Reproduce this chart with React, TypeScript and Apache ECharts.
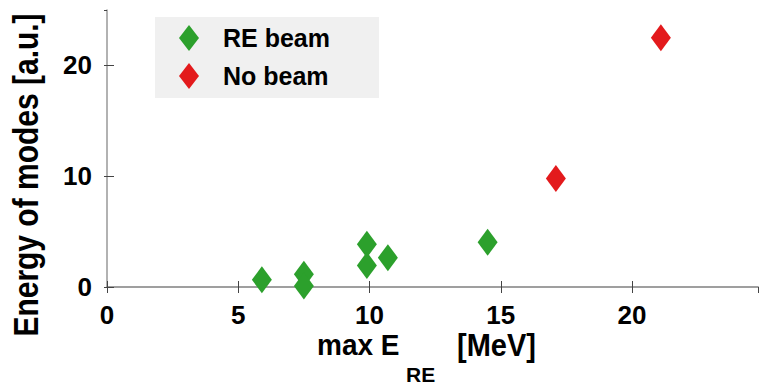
import React, { useEffect, useRef } from "react";
import * as echarts from "echarts";

const reBeamX = [5.9, 7.5, 7.5, 9.9, 9.9, 10.7, 14.5];
const reBeamY = [0.65, 1.15, 0.1, 3.85, 1.95, 2.65, 4.05];
const noBeamX = [17.1, 21.1];
const noBeamY = [9.8, 22.5];
const seriesNames = ["RE beam", "No beam"];
const xTitleMain = "max E";
const xTitleSub = "RE";
const xTitleUnit = "[MeV]";
const yTitle = "Energy of modes [a.u.]";

const FONT = "'Liberation Sans', Arial, sans-serif";
const GREEN = "#2ca02c";
const RED = "#e31a1c";

export default function App() {
  const ref = useRef<HTMLDivElement>(null);
  useEffect(() => {
    if (!ref.current) return;
    const chart = echarts.init(ref.current, null, { renderer: "svg" });
    const labelStyle = { fontSize: 26, fontWeight: "bold" as const, color: "#000", fontFamily: FONT, lineHeight: 24 };
    chart.setOption({
      animation: false,
      backgroundColor: "#fff",
      grid: { left: 107, right: 1, top: 10, bottom: 97 },
      legend: {
        orient: "vertical",
        left: 155,
        top: 17,
        backgroundColor: "#f0f0f0",
        padding: [8, 49, 9, 24],
        itemWidth: 20,
        itemHeight: 26,
        itemGap: 12,
        icon: "diamond",
        textStyle: { fontSize: 25, fontWeight: "bold", color: "#000", fontFamily: FONT, padding: [0, 0, 0, 19] },
        data: seriesNames,
      },
      xAxis: [
        {
          type: "value",
          min: 0,
          max: 24.8,
          interval: 5,
          axisLine: { show: true, lineStyle: { color: "#999", width: 1.5 } },
          axisTick: { show: true, inside: true, length: 6, lineStyle: { color: "#444" } },
          axisLabel: { ...labelStyle, margin: 16, showMaxLabel: false },
          splitLine: { show: false },
        },
        {
          type: "value",
          position: "top",
          min: 0,
          max: 24.8,
          interval: 5,
          axisLine: { show: true, lineStyle: { color: "#999", width: 1.5 } },
          axisTick: { show: true, inside: true, length: 6, lineStyle: { color: "#444" } },
          axisLabel: { show: false },
          splitLine: { show: false },
        },
      ],
      yAxis: [
        {
          type: "value",
          min: 0,
          max: 25,
          interval: 10,
          axisLine: { show: true, lineStyle: { color: "#999", width: 1.5 } },
          axisTick: { show: true, inside: true, length: 7, lineStyle: { color: "#444" } },
          axisLabel: { ...labelStyle, margin: 15, showMaxLabel: false },
          splitLine: { show: false },
        },
        {
          type: "value",
          position: "right",
          min: 0,
          max: 25,
          interval: 10,
          axisLine: { show: false },
          axisTick: { show: true, inside: true, length: 3, lineStyle: { color: "#444" } },
          axisLabel: { show: false },
          splitLine: { show: false },
        },
      ],
      series: [
        {
          name: seriesNames[0],
          type: "scatter",
          symbol: "diamond",
          symbolSize: [20, 27],
          itemStyle: { color: GREEN, opacity: 1 },
          data: reBeamX.map((x, i) => [x, reBeamY[i]]),
        },
        {
          name: seriesNames[1],
          type: "scatter",
          symbol: "diamond",
          symbolSize: [20, 27],
          itemStyle: { color: RED, opacity: 1 },
          data: noBeamX.map((x, i) => [x, noBeamY[i]]),
        },
      ],
      graphic: [
        {
          type: "text",
          x: 26,
          y: 175,
          rotation: Math.PI / 2,
          scaleY: 1.15,
          style: { text: yTitle, fontSize: 30, fontWeight: "bold", fontFamily: FONT, fill: "#000", align: "center", verticalAlign: "middle" },
        },
        {
          type: "text",
          x: 317,
          y: 345,
          scaleY: 1.08,
          style: { text: xTitleMain, fontSize: 28, fontWeight: "bold", fontFamily: FONT, fill: "#000", align: "left", verticalAlign: "middle", lineHeight: 24 },
        },
        {
          type: "text",
          x: 406,
          y: 374,
          style: { text: xTitleSub, fontSize: 21, fontWeight: "bold", fontFamily: FONT, fill: "#000", align: "left", verticalAlign: "middle", lineHeight: 18 },
        },
        {
          type: "text",
          x: 457,
          y: 345,
          scaleY: 1.08,
          style: { text: xTitleUnit, fontSize: 29, fontWeight: "bold", fontFamily: FONT, fill: "#000", align: "left", verticalAlign: "middle", lineHeight: 24 },
        },
      ],
    });
    return () => chart.dispose();
  }, []);
  return <div ref={ref} style={{ width: 759, height: 384, position: "fixed", left: 0, top: 0 }} />;
}
